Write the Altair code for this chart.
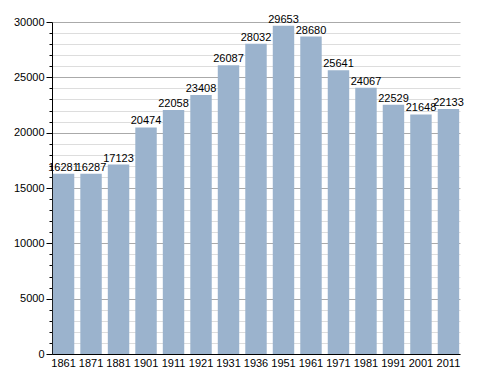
import altair as alt
import pandas as pd

years = ["1861", "1871", "1881", "1901", "1911", "1921", "1931", "1936", "1951",
         "1961", "1971", "1981", "1991", "2001", "2011"]
population = [16281, 16287, 17123, 20474, 22058, 23408, 26087, 28032, 29653,
              28680, 25641, 24067, 22529, 21648, 22133]

df = pd.DataFrame({"year": years, "pop": population})

font = "Liberation Sans"

base = alt.Chart(df).encode(
    x=alt.X("year:N", sort=years, title=None,
            scale=alt.Scale(paddingInner=0.22, paddingOuter=0.03),
            axis=alt.Axis(labelAngle=0, labelFont=font, labelFontSize=11, labelColor="#000",
                          domainColor="#000", ticks=False, labelPadding=3)),
    y=alt.Y("pop:Q", title=None,
            scale=alt.Scale(domain=[0, 30000], nice=False),
            axis=alt.Axis(values=list(range(0, 30001, 1000)),
                          labelExpr="datum.value % 5000 === 0 ? datum.value : ''",
                          labelFont=font, labelFontSize=11, labelColor="#000",
                          domainColor="#000", tickColor="#000",
                          tickSize=alt.condition("datum.value % 5000 === 0", alt.value(6), alt.value(3)),
                          gridColor=alt.condition("datum.value % 5000 === 0", alt.value("#aaaaaa"), alt.value("#dddddd")),
                          labelPadding=2)),
)

bars = base.mark_bar(color="#9bb3cd")
text = base.mark_text(dy=-6, font=font, fontSize=11, color="#000").encode(text="pop:Q")

chart = (bars + text).properties(width=408, height=332).configure_view(stroke=None)

chart.save("out.html", embed_options={"renderer": "svg", "actions": False})
